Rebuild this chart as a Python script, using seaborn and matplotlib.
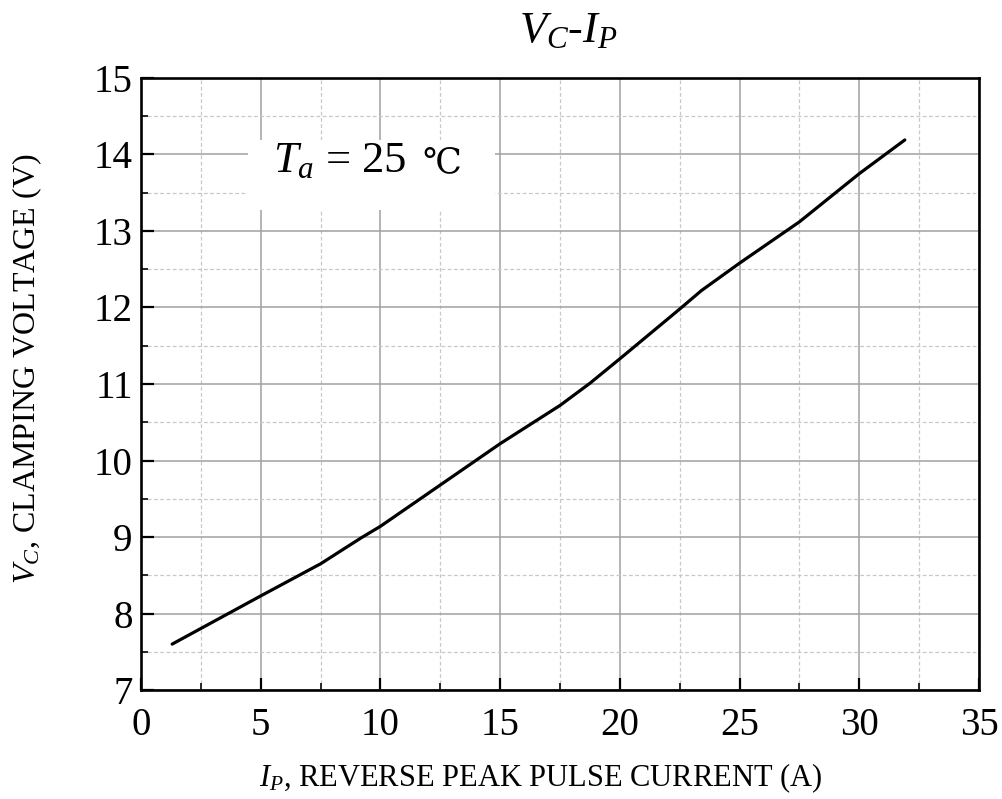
import matplotlib
matplotlib.use("Agg")
import matplotlib.pyplot as plt
from matplotlib.ticker import MultipleLocator
from matplotlib.patches import Rectangle
import seaborn as sns
import pandas as pd

# Data
current_a = [1.3, 5.0, 7.5, 9.2, 10.0, 12.5, 15.0, 16.25, 17.5, 18.75, 20.0, 22.5, 23.4, 25.0, 27.5, 30.0, 31.9]
clamp_v = [7.60, 8.23, 8.65, 8.99, 9.14, 9.68, 10.22, 10.47, 10.72, 11.01, 11.33, 11.98, 12.22, 12.58, 13.12, 13.75, 14.19]
x_ticks = [0, 5, 10, 15, 20, 25, 30, 35]
y_ticks = [7, 8, 9, 10, 11, 12, 13, 14, 15]

sns.set_theme(style="white")
plt.rcParams['font.family'] = ['Liberation Serif', 'DejaVu Serif', 'DejaVu Sans']
plt.rcParams['mathtext.fontset'] = 'custom'
plt.rcParams['mathtext.rm'] = 'Liberation Serif'
plt.rcParams['mathtext.it'] = 'Liberation Serif:italic'
plt.rcParams['mathtext.bf'] = 'Liberation Serif:bold'

df = pd.DataFrame({"I_P": current_a, "V_C": clamp_v})

fig = plt.figure(figsize=(10.03, 7.99), dpi=100)
ax = fig.add_axes([0.1406, 0.1364, 0.9761 - 0.1406, 0.9024 - 0.1364])

sns.lineplot(data=df, x="I_P", y="V_C", ax=ax, color="black", linewidth=2.3,
             zorder=5, estimator=None, sort=False)

ax.set_xlim(0, 35)
ax.set_ylim(7, 15)
ax.set_xticks(x_ticks)
ax.set_yticks(y_ticks)
ax.xaxis.set_minor_locator(MultipleLocator(2.5))
ax.yaxis.set_minor_locator(MultipleLocator(0.5))

ax.grid(True, which='major', color='#a0a0a0', linestyle='-', linewidth=1.1, zorder=0)
ax.grid(True, which='minor', color='#c8c8c8', linestyle=(0, (3, 2)), linewidth=0.9, zorder=0)
ax.set_axisbelow(True)

ax.tick_params(axis='both', which='major', direction='in', length=9, width=1.6,
               labelsize=28, colors='black', bottom=True, left=True, top=False, right=False)
ax.tick_params(axis='x', which='major', pad=12)
ax.tick_params(axis='y', which='major', pad=6)
ax.tick_params(axis='both', which='minor', direction='in', length=5, width=1.4,
               bottom=True, left=True, top=False, right=False)
for lab in ax.get_xticklabels() + ax.get_yticklabels():
    lab.set_color('black')

for s in ax.spines.values():
    s.set_visible(True)
    s.set_color('black')
    s.set_linewidth(1.9)

ax.set_xlabel(r'$I_P$, REVERSE PEAK PULSE CURRENT (A)', fontsize=22, color='black',
              labelpad=13, x=0.477)
ax.set_ylabel(r'$V_C$, CLAMPING VOLTAGE (V)', fontsize=23, color='black',
              labelpad=36, y=0.525)
ax.set_title(r'$V_C$-$I_P$', fontsize=32, color='black', pad=26, x=0.51)

# Condition label box
ax.add_patch(Rectangle((0.128, 0.785), 0.295, 0.113, transform=ax.transAxes,
                       facecolor='white', edgecolor='none', zorder=3))
ax.text(0.157, 0.846, r'$T_a$ = 25', transform=ax.transAxes, fontsize=32,
        ha='left', va='baseline', color='black', zorder=6)
ax.text(0.336, 0.846, '℃', transform=ax.transAxes, fontsize=25,
        family=['DejaVu Serif', 'DejaVu Sans', 'Noto Sans CJK SC'],
        ha='left', va='baseline', color='black', zorder=6)

fig.savefig("out.png", dpi=100)
